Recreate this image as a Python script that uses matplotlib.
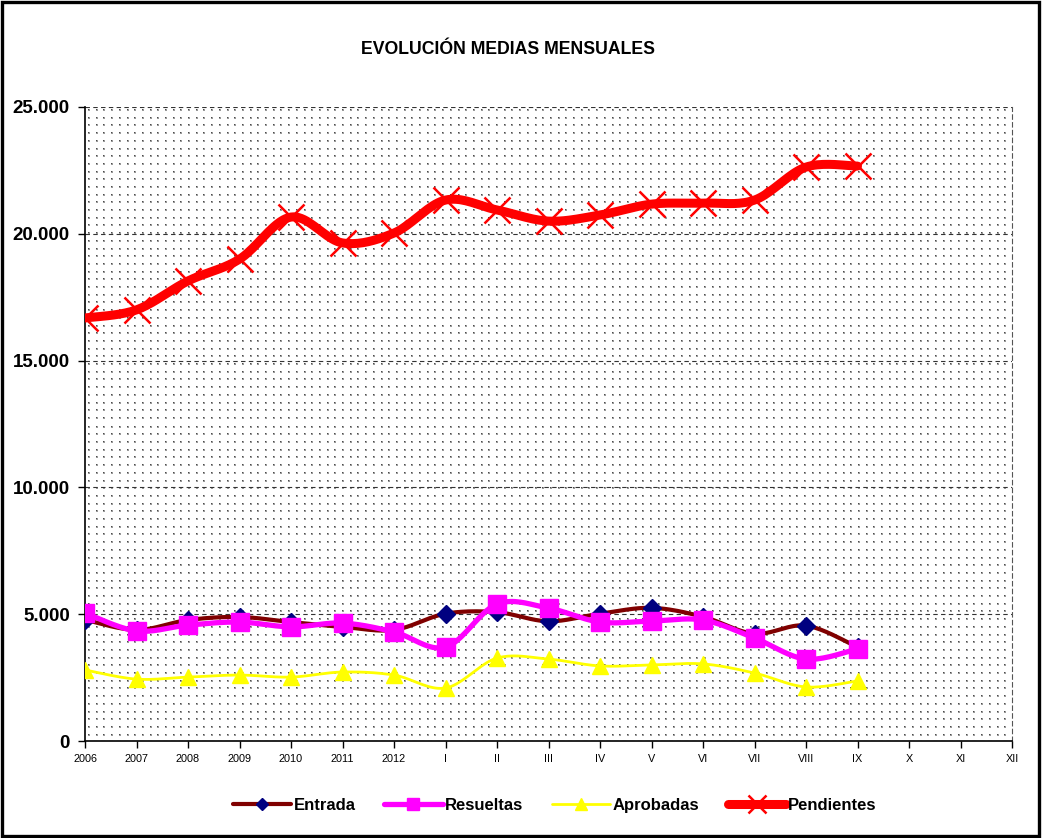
import numpy as np
import matplotlib
matplotlib.use("Agg")
import matplotlib.pyplot as plt
from matplotlib.patches import Rectangle
from matplotlib.ticker import FuncFormatter, MultipleLocator

categories = ['2006', '2007', '2008', '2009', '2010', '2011', '2012', 'I', 'II', 'III',
              'IV', 'V', 'VI', 'VII', 'VIII', 'IX', 'X', 'XI', 'XII']
entrada = [4780, 4380, 4770, 4890, 4690, 4500, 4380, 5020, 5080, 4720, 5020, 5250, 4900, 4230, 4550, 3700]
resueltas = [5050, 4340, 4570, 4690, 4500, 4650, 4300, 3700, 5400, 5240, 4690, 4730, 4770, 4060, 3230, 3630]
aprobadas = [2800, 2440, 2520, 2600, 2520, 2720, 2600, 2090, 3270, 3230, 2960, 3000, 3040, 2680, 2130, 2370]
pendientes = [16680, 17000, 18140, 19000, 20660, 19640, 20030, 21330, 20940, 20500, 20740, 21170, 21210, 21330, 22630, 22670]

SANS = ['Liberation Sans', 'DejaVu Sans']


def smooth(y, n=20):
    """Catmull-Rom (Excel-style) smoothing between data points."""
    y = np.asarray(y, dtype=float)
    x = np.arange(len(y), dtype=float)
    P = np.column_stack([x, y])
    P = np.vstack([P[0], P, P[-1]])
    out = []
    t = np.linspace(0, 1, n, endpoint=False)[:, None]
    for i in range(1, len(P) - 2):
        p0, p1, p2, p3 = P[i - 1], P[i], P[i + 1], P[i + 2]
        c1 = p1 + (p2 - p0) / 6.0
        c2 = p2 - (p3 - p1) / 6.0
        seg = ((1 - t) ** 3) * p1 + 3 * ((1 - t) ** 2) * t * c1 + 3 * (1 - t) * t ** 2 * c2 + t ** 3 * p2
        out.append(seg)
    out.append(P[-2][None, :])
    out = np.vstack(out)
    return out[:, 0], out[:, 1]


W, H = 1043, 838
AX_L, AX_R, AX_T, AX_B = 85, 1012, 107, 741
fig = plt.figure(figsize=(W / 100, H / 100), dpi=100)
ax = fig.add_axes([AX_L / W, 1 - AX_B / H, (AX_R - AX_L) / W, (AX_B - AX_T) / H])

# dotted background texture (pixel pattern)
pw, ph = AX_R - AX_L, AX_B - AX_T
tex = np.ones((ph, pw, 3))
step = 7.7
cols = np.round(np.arange(3, pw, step)).astype(int)
rows = np.round(np.arange(3, ph, step)).astype(int)
for r in rows:
    for c in cols:
        tex[r:r + 2, c:c + 2] = 0.6
        tex[r, c] = 0.3
ax.imshow(tex, extent=(0, 1, 0, 1), transform=ax.transAxes, aspect='auto',
          interpolation='nearest', zorder=0)

series = [
    (entrada, 'Entrada', dict(color='#800000', lw=3.0), dict(marker='D', ms=9.5, mfc='#000080', mec='#000080')),
    (resueltas, 'Resueltas', dict(color='#FF00FF', lw=3.8), dict(marker='s', ms=13, mfc='#FF00FF', mec='#FF00FF')),
    (aprobadas, 'Aprobadas', dict(color='#FFFF00', lw=2.0), dict(marker='^', ms=12, mfc='#FFFF00', mec='#FFFF00')),
    (pendientes, 'Pendientes', dict(color='#FF0000', lw=6.5), dict(marker='x', ms=19, mfc='#FF0000', mec='#FF0000', mew=1.8)),
]

handles = []
for z, (vals, name, lstyle, mstyle) in enumerate(series):
    xs, ys = smooth(vals)
    ax.plot(xs, ys, solid_capstyle='round', zorder=3 + 2 * z, **lstyle)
    ax.plot(np.arange(len(vals)), vals, ls='none', zorder=4 + 2 * z, **mstyle)
    h, = ax.plot([], [], label=name, solid_capstyle='round', **lstyle, **mstyle)
    handles.append(h)

ax.set_xlim(0, len(categories) - 1)
ax.set_ylim(0, 25000)
ax.set_xticks(range(len(categories)))
ax.set_xticklabels(categories, fontsize=7.8, family=SANS)
ax.yaxis.set_major_locator(MultipleLocator(5000))
ax.yaxis.set_major_formatter(FuncFormatter(lambda v, p: f"{int(v):,}".replace(',', '.')))
for lab in ax.get_yticklabels():
    lab.set_fontsize(13.5)
    lab.set_fontweight('bold')
    lab.set_family(SANS)
ax.tick_params(axis='x', direction='out', length=5, width=1, pad=4)
ax.tick_params(axis='y', direction='out', length=5, width=1, pad=6)

ax.grid(axis='y', color='#333333', linestyle=(0, (4, 3)), linewidth=0.8, zorder=1)
ax.set_axisbelow(True)
ax.spines['top'].set_visible(False)
ax.spines['right'].set_linestyle((0, (4, 3)))
ax.spines['right'].set_color('#555555')
ax.spines['right'].set_linewidth(0.8)
ax.spines['left'].set_linewidth(1.2)
ax.spines['bottom'].set_linewidth(1.2)

fig.text(508 / W, 1 - 50 / H, 'EVOLUCIÓN MEDIAS MENSUALES', ha='center', va='center',
         fontsize=12.7, fontweight='bold', family=SANS)

leg = fig.legend(handles=handles, loc='center', bbox_to_anchor=(555 / W, 1 - 805 / H), ncol=4,
                 frameon=False, numpoints=1, handlelength=3.5, handletextpad=0.15, columnspacing=1.7,
                 markerscale=0.68, prop=dict(family=SANS, weight='bold', size=12))

fig.patches.append(Rectangle((1.5 / W, 2 / H), 1037.5 / W, 834 / H, transform=fig.transFigure,
                             fill=False, edgecolor='black', linewidth=2.4))

fig.savefig('out.png', dpi=100)
